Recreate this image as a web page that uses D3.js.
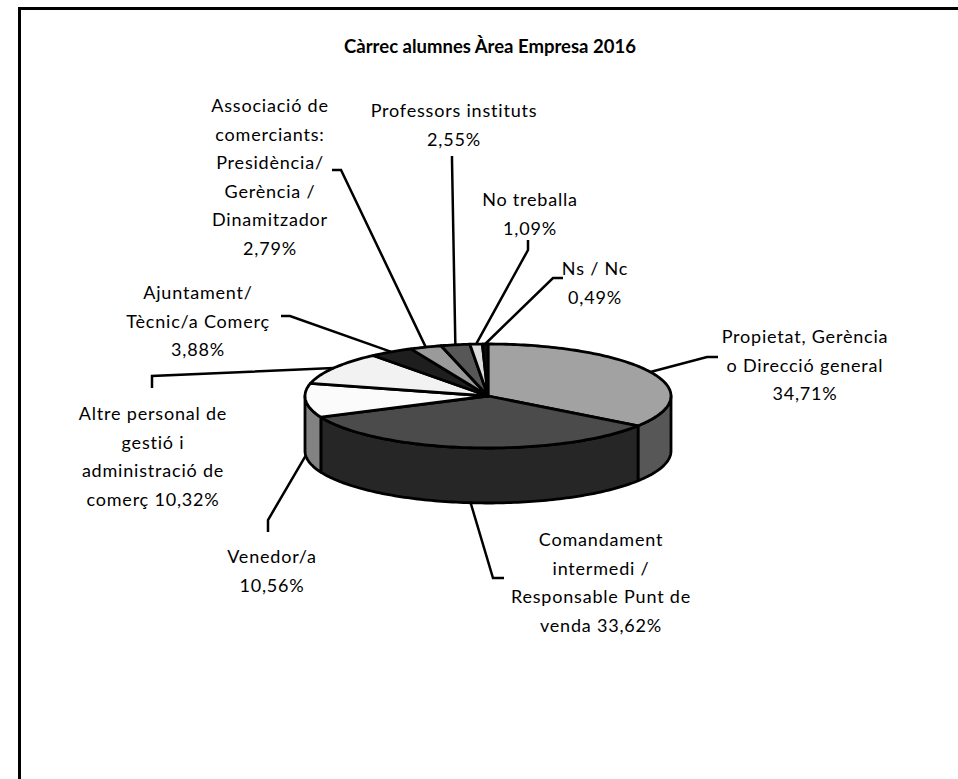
<!DOCTYPE html>
<html>
<head>
<meta charset="utf-8">
<script src="https://cdn.jsdelivr.net/npm/d3@7"></script>
<style>
  body { margin: 0; background: #fff; }
  text { font-family: Lato, "Open Sans", sans-serif; fill: #000; }
</style>
</head>
<body>
<div id="root"></div>
<script>
// data
var title = 'Càrrec alumnes Àrea Empresa 2016';
var categories = [
  'Propietat, Gerència o Direcció general',
  'Comandament intermedi / Responsable Punt de venda',
  'Venedor/a',
  'Altre personal de gestió i administració de comerç',
  'Ajuntament/ Tècnic/a Comerç',
  'Associació de comerciants: Presidència/ Gerència / Dinamitzador',
  'Professors instituts',
  'No treballa',
  'Ns / Nc'
];
var values = [34.71, 33.62, 10.56, 10.32, 3.88, 2.79, 2.55, 1.09, 0.49];
// label text as it is wrapped in the chart, {p} = percentage
var labelLines = [
  ['Propietat, Gerència', 'o Direcció general', '{p}'],
  ['Comandament', 'intermedi /', 'Responsable Punt de', 'venda {p}'],
  ['Venedor/a', '{p}'],
  ['Altre personal de', 'gestió i', 'administració de', 'comerç {p}'],
  ['Ajuntament/', 'Tècnic/a Comerç', '{p}'],
  ['Associació de', 'comerciants:', 'Presidència/', 'Gerència /', 'Dinamitzador', '{p}'],
  ['Professors instituts', '{p}'],
  ['No treballa', '{p}'],
  ['Ns / Nc', '{p}']
];

// styles
var topColors = ['#a2a2a2', '#4b4b4b', '#fbfbfb', '#f2f2f2', '#1e1e1e', '#9a9a9a', '#575757', '#dcdcdc', '#0e0e0e'];
var sideColors = ['#575757', '#262626', '#828282', '#7a7a7a', '#101010', '#555', '#2c2c2c', '#777', '#050505'];

// label layout: centre x, first line y, elbow and end of leader
var labelPos = [
  { x: 805, y: 336, elbow: [707, 357], end: [718, 357] },
  { x: 601, y: 539, elbow: [493, 578], end: [504, 578] },
  { x: 272, y: 556, elbow: [268, 520], end: [268, 532] },
  { x: 153, y: 413, elbow: [152, 376], end: [152, 388] },
  { x: 198, y: 292, elbow: [290, 316], end: [281, 316] },
  { x: 270, y: 105, elbow: [341, 170], end: [332, 170] },
  { x: 454, y: 110, elbow: [452, 160], end: [452, 156] },
  { x: 530, y: 199, elbow: [528, 250], end: [528, 240] },
  { x: 595, y: 268, elbow: [553, 278], end: [563, 278] }
];
var lineGap = 28.5;

var W = 958, H = 779;
var cx = 488, cy = 396, rx = 183, ry = 52, depth = 55;

var svg = d3.select('#root')
  .append('svg')
    .attr('width', W)
    .attr('height', H);

svg.append('rect').attr('width', W).attr('height', H).attr('fill', '#fff');

// chart area border (right and bottom fall outside the picture)
svg.append('path')
  .attr('d', 'M19.5,' + (H + 5) + 'V8.5H' + (W + 5))
  .attr('fill', 'none')
  .attr('stroke', '#000')
  .attr('stroke-width', 3);

svg.append('text')
  .attr('x', 490)
  .attr('y', 46)
  .attr('text-anchor', 'middle')
  .attr('dominant-baseline', 'central')
  .style('font-weight', 'bold')
  .style('font-size', '18.5px')
  .text(title);

// projection of the unit circle onto the tilted ellipse
var xs = d3.scaleLinear().domain([-1, 1]).range([cx - rx, cx + rx]);
var ys = d3.scaleLinear().domain([-1, 1]).range([cy - ry, cy + ry]);

var arcPts = (a0, a1, dy) => {
  var n = Math.max(2, Math.ceil(Math.abs(a1 - a0) / 0.02));
  return d3.range(n + 1).map(i => {
    var a = a0 + (a1 - a0) * i / n;
    return [xs(Math.sin(a)), ys(-Math.cos(a)) + dy];
  });
};

var line = d3.line().curve(d3.curveLinear);

var slices = d3.pie().sort(null).value(d => d)(values);

// outer walls that face the viewer
svg.append('g').selectAll('path')
  .data(slices.filter(s => Math.max(s.startAngle, Math.PI / 2) < Math.min(s.endAngle, 3 * Math.PI / 2)))
  .enter()
  .append('path')
    .attr('d', s => {
      var s0 = Math.max(s.startAngle, Math.PI / 2);
      var s1 = Math.min(s.endAngle, 3 * Math.PI / 2);
      return line(arcPts(s0, s1, 0).concat(arcPts(s1, s0, depth))) + 'Z';
    })
    .attr('fill', s => sideColors[s.index])
    .attr('stroke', '#000')
    .attr('stroke-width', 2.8)
    .attr('stroke-linejoin', 'round');

// top faces
svg.append('g').selectAll('path')
  .data(slices)
  .enter()
  .append('path')
    .attr('d', s => line([[cx, cy]].concat(arcPts(s.startAngle, s.endAngle, 0))) + 'Z')
    .attr('fill', s => topColors[s.index])
    .attr('stroke', '#000')
    .attr('stroke-width', 2.8)
    .attr('stroke-linejoin', 'round');

// leader lines: from the middle of each slice's rim to the label
var rimPoint = s => {
  var a = (s.startAngle + s.endAngle) / 2;
  var dy = Math.cos(a) < 0 ? depth : 0;
  return [xs(Math.sin(a)), ys(-Math.cos(a)) + dy];
};

svg.append('g').selectAll('path')
  .data(slices)
  .enter()
  .append('path')
    .attr('d', s => line([rimPoint(s), labelPos[s.index].elbow, labelPos[s.index].end]))
    .attr('fill', 'none')
    .attr('stroke', '#000')
    .attr('stroke-width', 2.5);

var pct = v => d3.format('.2f')(v).replace('.', ',') + '%';

var labels = svg.append('g').selectAll('text')
  .data(slices)
  .enter()
  .append('text')
    .attr('text-anchor', 'middle')
    .attr('dominant-baseline', 'central')
    .style('font-size', '18px')
    .style('letter-spacing', '0.8px');

labels.each(function (s) {
  var p = labelPos[s.index];
  d3.select(this).selectAll('tspan')
    .data(labelLines[s.index])
    .enter()
    .append('tspan')
      .attr('x', p.x)
      .attr('y', (d, i) => p.y + i * lineGap)
      .text(d => d.replace('{p}', pct(values[s.index])));
});
</script>
</body>
</html>
